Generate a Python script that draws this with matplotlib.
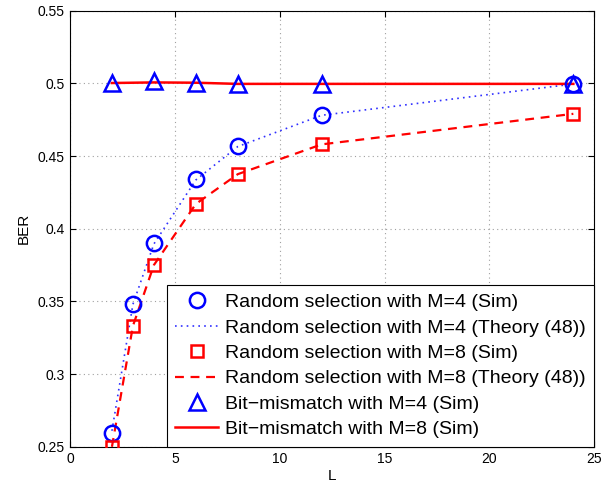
import matplotlib
matplotlib.use("Agg")
import matplotlib.pyplot as plt
from matplotlib.ticker import FuncFormatter

plt.rcParams['font.family'] = ['Liberation Sans', 'DejaVu Sans']

# Data
L_rand = [2, 3, 4, 6, 8, 12, 24]
rs_m4_sim = [0.2597, 0.3484, 0.3900, 0.4340, 0.4570, 0.4780, 0.4997]
rs_m4_theory = [0.2610, 0.3480, 0.3895, 0.4335, 0.4565, 0.4780, 0.4995]
rs_m8_sim = [0.2500, 0.3331, 0.3750, 0.4170, 0.4375, 0.4580, 0.4790]
rs_m8_theory = [0.2500, 0.3331, 0.3750, 0.4170, 0.4375, 0.4580, 0.4790]
L_bm = [2, 4, 6, 8, 12, 24]
bm_m4_sim = [0.5000, 0.5015, 0.5005, 0.4997, 0.4998, 0.4998]
bm_m8_sim = [0.5002, 0.5006, 0.5004, 0.4996, 0.4996, 0.4996]

labels = [
    'Random selection with M=4 (Sim)',
    'Random selection with M=4 (Theory (48))',
    'Random selection with M=8 (Sim)',
    'Random selection with M=8 (Theory (48))',
    'Bit\u2212mismatch with M=4 (Sim)',
    'Bit\u2212mismatch with M=8 (Sim)',
]

fig = plt.figure(figsize=(6.13, 4.83), dpi=100)
ax = fig.add_axes([70/613, 1-446.8/483, (594.3-70)/613, (446.8-10.6)/483])

ax.plot(L_rand, rs_m4_sim, linestyle='none', marker='o', markersize=11,
        markerfacecolor='none', markeredgecolor='#0000ff', markeredgewidth=1.8, label=labels[0], zorder=4)
ax.plot(L_rand, rs_m4_theory, linestyle=(0, (1, 2.5)), color='#3030ff', linewidth=1.2, label=labels[1], zorder=3)
ax.plot(L_rand, rs_m8_sim, linestyle='none', marker='s', markersize=8.5,
        markerfacecolor='none', markeredgecolor='#ff0000', markeredgewidth=1.8, label=labels[2], zorder=4)
ax.plot(L_rand, rs_m8_theory, linestyle=(0, (4, 3)), color='#ff0000', linewidth=1.6, label=labels[3], zorder=3)
ax.plot(L_bm, bm_m4_sim, linestyle='none', marker='^', markersize=12,
        markerfacecolor='none', markeredgecolor='#0000ff', markeredgewidth=1.8, label=labels[4], zorder=4)
ax.plot(L_bm, bm_m8_sim, linestyle='-', color='#ff0000', linewidth=1.8, label=labels[5], zorder=3)

ax.set_xlim(0, 25)
ax.set_ylim(0.25, 0.55)
ax.set_xticks([0, 5, 10, 15, 20, 25])
ax.set_yticks([0.25, 0.3, 0.35, 0.4, 0.45, 0.5, 0.55])
ax.yaxis.set_major_formatter(FuncFormatter(lambda v, p: ('%g' % round(v, 4))))
ax.tick_params(direction='in', top=True, right=True, labelsize=10, length=4, width=0.8, pad=4)
ax.grid(True, linestyle=(0, (1, 3)), color='#a0a0a0', linewidth=0.8)
for s in ax.spines.values():
    s.set_linewidth(0.8)

ax.set_xlabel('L', fontsize=11, labelpad=2)
ax.set_ylabel('BER', fontsize=11, labelpad=5)

leg = ax.legend(loc='lower right', borderaxespad=0, fontsize=14, fancybox=False,
                edgecolor='black', framealpha=1, handlelength=2.2, handletextpad=0.35,
                labelspacing=0.4, borderpad=0.44, numpoints=1)
leg.get_frame().set_linewidth(0.8)

fig.savefig('out.png', dpi=100)
